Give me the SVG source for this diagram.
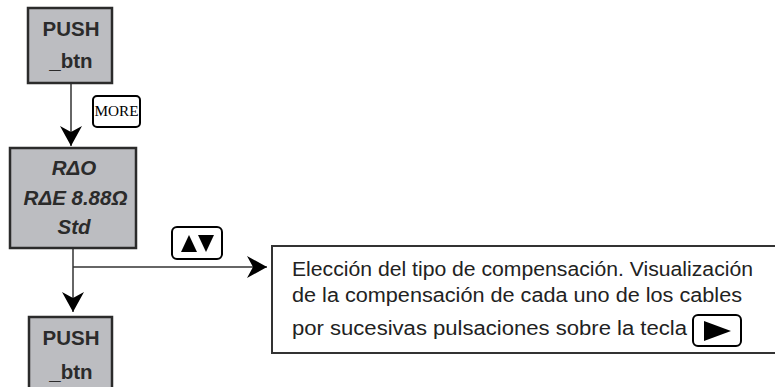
<svg xmlns="http://www.w3.org/2000/svg" width="775" height="387" viewBox="0 0 775 387">
<style>
.node{fill:#bcbdc1;stroke:#2b2b2b;stroke-width:2.5}
.lbl{font-family:"Liberation Sans",Arial,sans-serif;font-weight:bold;font-size:20.5px;fill:#2b2b2b;text-anchor:middle}
.it{font-style:italic}
.conn{fill:none;stroke:#333;stroke-width:1.5}
.key{fill:#fff;stroke:#000;stroke-width:2}
.desc{font-family:"Liberation Sans",Arial,sans-serif;font-size:19.5px;fill:#222}
</style>
<defs>
<marker id="ah" markerUnits="userSpaceOnUse" markerWidth="22" markerHeight="24" viewBox="0 -12 21 24" refX="20" refY="0" orient="auto">
<path d="M0,-11 L20,0 L0,11 L6,0 z" fill="#000"/>
</marker>
</defs>
<rect width="775" height="387" fill="#fff"/>
<g id="connectors">
<line class="conn" x1="71" y1="84" x2="71" y2="146" marker-end="url(#ah)"/>
<line class="conn" x1="73" y1="249" x2="73" y2="312" marker-end="url(#ah)"/>
<line class="conn" x1="73" y1="267" x2="267" y2="267" marker-end="url(#ah)"/>
</g>
<g id="node-push1">
<rect class="node" x="28" y="8" width="84" height="75"/>
<text class="lbl" x="71" y="36">PUSH</text>
<text class="lbl" x="71" y="68">_btn</text>
</g>
<g id="key-more">
<rect class="key" x="93" y="96" width="47" height="31" rx="4" stroke-width="1.5"/>
<text x="116.5" y="116" font-family="'Liberation Serif','Times New Roman',serif" font-size="15" text-anchor="middle" textLength="44" lengthAdjust="spacingAndGlyphs" fill="#000">MORE</text>
</g>
<g id="node-display">
<rect class="node" x="10" y="148" width="126" height="100"/>
<text class="lbl it" x="74" y="175">RΔO</text>
<text class="lbl it" x="75.5" y="205">RΔE 8.88Ω</text>
<text class="lbl it" x="74" y="234">Std</text>
</g>
<g id="key-updown">
<rect class="key" x="172" y="227" width="50" height="32" rx="5"/>
<polygon points="181,252 189,235 197,252" fill="#000"/>
<polygon points="198,235 214,235 206,252" fill="#000"/>
</g>
<g id="node-push2">
<rect class="node" x="29" y="317" width="83" height="80"/>
<text class="lbl" x="71" y="345">PUSH</text>
<text class="lbl" x="71" y="379">_btn</text>
</g>
<g id="node-desc">
<rect x="272" y="246" width="520" height="107" fill="#fff" stroke="#333" stroke-width="2"/>
<text class="desc" x="292" y="276" textLength="461" lengthAdjust="spacingAndGlyphs">Elección del tipo de compensación. Visualización</text>
<text class="desc" x="292" y="302" textLength="450" lengthAdjust="spacingAndGlyphs">de la compensación de cada uno de los cables</text>
<text class="desc" x="292" y="335" textLength="395" lengthAdjust="spacingAndGlyphs">por sucesivas pulsaciones sobre la tecla</text>
<rect class="key" x="693" y="315" width="48" height="31" rx="5"/>
<polygon points="704,321 731,331 704,341" fill="#000"/>
</g>
</svg>
